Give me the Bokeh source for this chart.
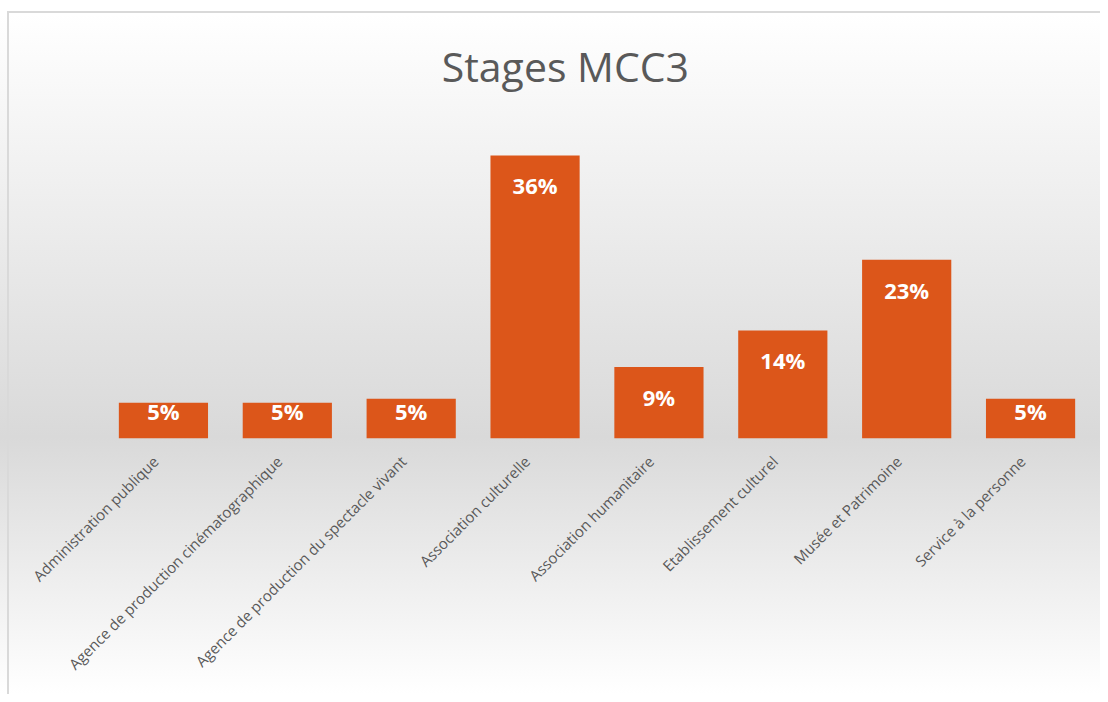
import math
from bokeh.plotting import figure
from bokeh.models import ColumnDataSource, Range1d, LinearAxis, FixedTicker, Label
from bokeh.core.properties import value
from bokeh.embed import file_html
from bokeh.resources import INLINE

# ---- data ----
categories = [
    "Administration publique",
    "Agence de production cinématographique",
    "Agence de production du spectacle vivant",
    "Association culturelle",
    "Association humanitaire",
    "Etablissement culturel",
    "Musée et Patrimoine",
    "Service à la personne",
]
shares = [4.6, 4.6, 5.1, 36.4, 9.2, 13.9, 23.0, 5.1]  # percent
title_text = "Stages MCC3"

# ---- layout constants ----
px_per_unit = 311 / 40.0          # vertical scale (40 % -> 311 px)
frame_top, frame_bottom = 20, 438  # frame in figure pixels
fig_w, fig_h = 1100, 694
y_end = (frame_bottom - frame_top) / px_per_unit

# ---- derived ----
idx = list(range(len(categories)))
labels = [f"{round(v)}%" for v in shares]
label_y = [max(v - 30 / px_per_unit, 28 / px_per_unit) for v in shares]

src = ColumnDataSource(dict(x=idx, cat=categories, v=shares, ly=label_y, lab=labels))

n = len(categories)
p = figure(
    x_range=Range1d(-0.5, n - 0.5),
    y_range=Range1d(0, y_end),
    width=fig_w, height=fig_h,
    output_backend="svg", toolbar_location=None,
    min_border_left=101, min_border_right=8,
    min_border_top=frame_top, min_border_bottom=fig_h - frame_bottom,
    x_axis_location=None, y_axis_location=None,
)
p.background_fill_alpha = 0
p.border_fill_alpha = 0
p.outline_line_color = None
p.styles = {
    "background": (
        "linear-gradient(#d9d9d9,#d9d9d9) 7px 11px / 100% 2px no-repeat, "
        "linear-gradient(#d9d9d9,#d9d9d9) 7px 11px / 2px 100% no-repeat, "
        "linear-gradient(to bottom, #ffffff 0%, #ffffff 2%, #d9d9d9 63%, #ffffff 100%)"
    )
}

# chart title, centred on the whole chart area
title = Label(x=(565 - 101) / 123.9 - 0.5, y=(frame_bottom - 65) / px_per_unit,
              text=title_text, text_align="center", text_baseline="middle",
              text_font="Open Sans", text_font_size="41px",
              text_color="#595959")
p.add_layout(title)

p.vbar(x="x", top="v", width=0.72, source=src,
       fill_color="#dc561a", line_color=None)

p.text(x="x", y="ly", text="lab", source=src,
       text_align="center", text_baseline="middle",
       text_color="white", text_font=value("Open Sans"),
       text_font_size="22px", text_font_style="bold")

p.xgrid.grid_line_color = None
p.ygrid.grid_line_color = None

# category axis, labels nudged slightly left like the reference
shift = 8 / 124.0
p.extra_x_ranges = {"lab": Range1d(-0.5 + shift, n - 0.5 + shift)}
xa = LinearAxis(x_range_name="lab", ticker=FixedTicker(ticks=idx),
                major_label_overrides={i: c for i, c in zip(idx, categories)})
xa.axis_line_color = None
xa.major_tick_line_color = None
xa.minor_tick_line_color = None
xa.major_label_orientation = math.pi / 4
xa.major_label_text_font = "Open Sans"
xa.major_label_text_font_size = "15px"
xa.major_label_text_color = "#595959"
xa.major_label_standoff = 14
p.add_layout(xa, "below")

open("out.html", "w").write(file_html(p, INLINE))
